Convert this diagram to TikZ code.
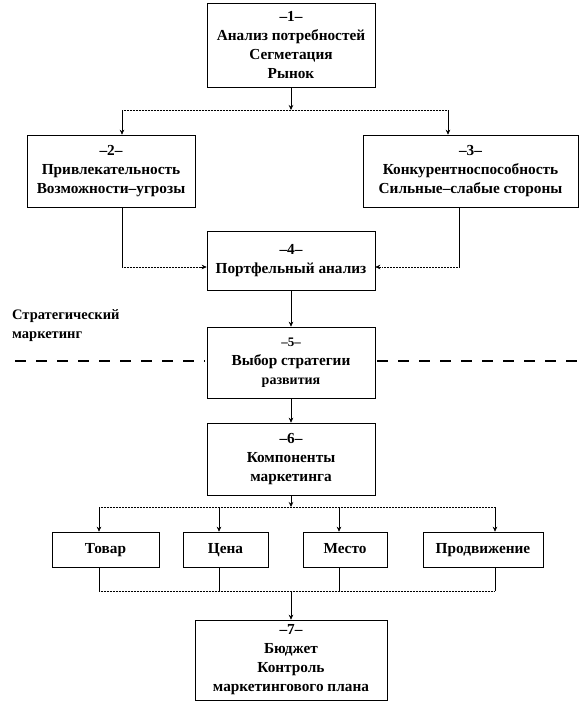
\documentclass[tikz,border=0pt]{standalone}
\usepackage{fontspec}
\setmainfont{Liberation Serif}
\usetikzlibrary{arrows.meta}
\begin{document}
\begin{tikzpicture}[x=1pt,y=-1pt,
  box/.style={draw, line width=0.6pt, align=center, inner sep=0pt,
    font=\bfseries\fontsize{15.3}{19}\selectfont},
  sbox/.style={box, minimum height=35pt, text height=10.5pt, text depth=3.5pt},
  arr/.style={-{Stealth[length=5pt,width=4.5pt]}, line width=0.6pt},
  vl/.style={line width=0.6pt},
  hl/.style={line width=0.5pt, densely dotted},
  dashline/.style={line width=2.6pt, dash pattern=on 11pt off 10pt},
  small/.style={font=\bfseries\fontsize{14.5}{19}\selectfont}]
\useasboundingbox (0,0) rectangle (582,702);
% boxes
\node[box, minimum width=168pt, minimum height=84pt] (b1) at (291,45)
  {–1–\\Анализ потребностей\\Сегметация\\Рынок};
\node[box, minimum width=168pt, minimum height=72pt] (b2) at (111,171)
  {–2–\\Привлекательность\\Возможности–угрозы};
\node[box, minimum width=215pt, minimum height=72pt] (b3) at (470.5,171)
  {–3–\\Конкурентноспособность\\Сильные–слабые стороны};
\node[box, minimum width=168pt, minimum height=59pt] (b4) at (291,260.5)
  {–4–\\Портфельный анализ};
\node[box, minimum width=168pt, minimum height=71pt] (b5) at (291,362.5)
  {{\fontsize{13}{19}\selectfont –5–}\\Выбор стратегии\\{\fontsize{14}{19}\selectfont развития}};
\node[box, minimum width=168pt, minimum height=72pt] (b6) at (291,459)
  {–6–\\Компоненты\\маркетинга};
\node[sbox, minimum width=107pt] (t1) at (105.5,549.5) {Товар};
\node[sbox, minimum width=85pt] (t2) at (225.5,549.5) {Цена};
\node[sbox, minimum width=84pt] (t3) at (345,549.5) {Место};
\node[sbox, minimum width=120pt] (t4) at (483,549.5) {Продвижение};
\node[box, minimum width=192pt, minimum height=80pt] (b7) at (291,660)
  {–7–\\Бюджет\\Контроль\\маркетингового плана};
% label
\node[small, align=left, anchor=west, inner sep=0pt] (lab) at (12,326)
  {Стратегический\\маркетинг};
% coordinates
\coordinate (j1) at (291,110);
\coordinate (j1l) at (122,110);
\coordinate (j1r) at (448,110);
\coordinate (c2) at (122,267);
\coordinate (c3) at (459,267);
\coordinate (j6) at (291,507);
\coordinate (j6a) at (99,507);
\coordinate (j6b) at (219,507);
\coordinate (j6c) at (339,507);
\coordinate (j6d) at (495,507);
\coordinate (j7) at (291,591);
\coordinate (j7a) at (99,591);
\coordinate (j7b) at (219,591);
\coordinate (j7c) at (339,591);
\coordinate (j7d) at (495,591);
% connectors
\draw[arr] (b1.south) -- (j1);
\draw[hl] (j1l) -- (j1r);
\draw[arr] (j1l) -- (j1l |- b2.north);
\draw[arr] (j1r) -- (j1r |- b3.north);
\draw[vl] (c2 |- b2.south) -- (c2);
\draw[hl] (c2) -- ([xshift=-6pt]c2 -| b4.west);
\draw[arr] ([xshift=-6pt]c2 -| b4.west) -- (c2 -| b4.west);
\draw[vl] (c3 |- b3.south) -- (c3);
\draw[hl] (c3) -- ([xshift=6pt]c3 -| b4.east);
\draw[arr] ([xshift=6pt]c3 -| b4.east) -- (c3 -| b4.east);
\draw[arr] (b4.south) -- (b5.north);
\draw[arr] (b5.south) -- (b6.north);
\draw[arr] (b6.south) -- (j6);
\draw[hl] (j6a) -- (j6d);
\draw[arr] (j6a) -- (j6a |- t1.north);
\draw[arr] (j6b) -- (j6b |- t2.north);
\draw[arr] (j6c) -- (j6c |- t3.north);
\draw[arr] (j6d) -- (j6d |- t4.north);
\draw[vl] (j7a |- t1.south) -- (j7a);
\draw[vl] (j7b |- t2.south) -- (j7b);
\draw[vl] (j7c |- t3.south) -- (j7c);
\draw[vl] (j7d |- t4.south) -- (j7d);
\draw[hl] (j7a) -- (j7d);
\draw[arr] (j7) -- (b7.north);
% dashed boundary
\coordinate (dl) at (15,361);
\coordinate (dr) at (580,361);
\draw[dashline] (dl) -- ([xshift=-2pt]dl -| b5.west);
\draw[dashline] ([xshift=2pt]dr -| b5.east) -- (dr);
\end{tikzpicture}
\end{document}
